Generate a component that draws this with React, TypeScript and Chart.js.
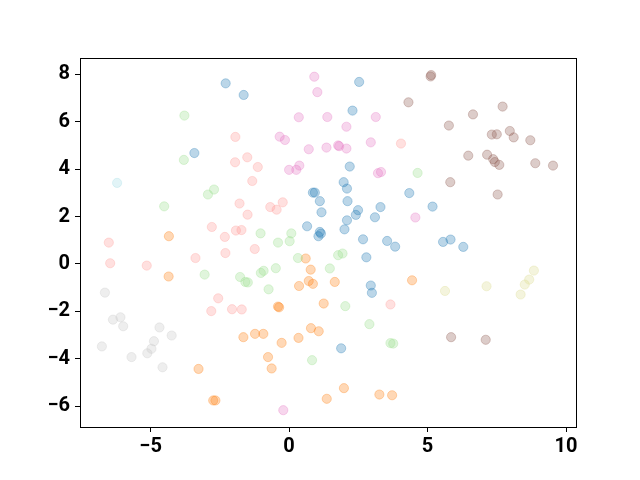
import React, { useEffect, useRef } from "react";
import { Chart, registerables } from "chart.js";

Chart.register(...registerables);

const xTicks = [-5, 0, 5, 10];
const yTicks = [-6, -4, -2, 0, 2, 4, 6, 8];

const blue: [number, number][] = [
  [-2.29, 7.62], [-1.64, 7.13], [-3.42, 4.68], [2.53, 7.68], [2.29, 6.47], [2.19, 4.11], [1.97, 3.45],
  [2.09, 3.18], [0.93, 3.01], [0.86, 3.01], [1.11, 2.65], [2.11, 2.65], [1.17, 2.18], [2.49, 2.27],
  [2.41, 2.07], [3.3, 2.4], [3.1, 1.97], [2.09, 1.84], [0.65, 1.59], [2.0, 1.46], [1.11, 1.35],
  [1.15, 1.28], [1.06, 1.17], [2.67, 1.04], [3.54, 0.97], [3.83, 0.73], [2.79, 0.28], [4.34, 2.99],
  [5.18, 2.42], [5.56, 0.93], [5.83, 1.03], [6.29, 0.72], [2.95, -0.91], [2.99, -1.22], [1.88, -3.56],
];
const orange: [number, number][] = [
  [-4.34, 1.17], [-4.35, -0.53], [0.6, 0.23], [0.78, -0.24], [0.71, -0.72], [0.86, -0.84], [0.36, -0.93],
  [1.65, -0.76], [-0.4, -1.8], [-0.36, -1.83], [1.25, -1.67], [4.44, -0.69], [-1.65, -3.09], [-1.23, -2.95],
  [-0.93, -2.95], [-0.27, -3.33], [0.34, -3.12], [0.79, -2.71], [1.07, -2.84], [-0.76, -3.93], [-0.63, -4.41],
  [-3.27, -4.43], [-2.74, -5.76], [-2.66, -5.76], [1.98, -5.24], [1.36, -5.69], [3.26, -5.51], [3.72, -5.54],
];
const lightGreen: [number, number][] = [
  [-3.78, 6.26], [-3.8, 4.39], [-2.71, 3.14], [-2.93, 2.93], [-4.51, 2.43], [4.64, 3.84], [-1.03, 1.29],
  [0.08, 1.29], [0.02, 0.96], [-0.4, 0.9], [0.32, 0.25], [1.77, 0.37], [1.93, 0.44], [1.47, -0.19],
  [-0.48, -0.18], [-1.02, -0.38], [-0.92, -0.29], [-1.77, -0.55], [-1.58, -0.76], [-1.49, -0.78],
  [-0.74, -1.07], [-3.05, -0.45], [2.03, -1.78], [2.9, -2.54], [3.66, -3.34], [3.76, -3.36], [0.83, -4.06],
];
const lightPink: [number, number][] = [
  [-1.94, 5.36], [-1.95, 4.29], [-1.51, 4.5], [-1.13, 4.09], [-1.33, 3.5], [4.04, 5.08], [-1.79, 2.55],
  [-1.5, 2.08], [-0.68, 2.4], [-0.45, 2.29], [-0.23, 2.6], [-2.79, 1.56], [-1.92, 1.41], [-1.72, 1.43],
  [-2.32, 1.14], [-1.24, 0.63], [-2.3, 0.46], [-3.38, 0.25], [-6.51, 0.9], [-6.46, 0.03], [-5.14, -0.07],
  [-2.56, -1.45], [-2.81, -1.99], [-2.06, -1.91], [-1.71, -1.92], [3.66, -1.71],
];
const pink: [number, number][] = [
  [0.91, 7.9], [1.02, 7.25], [0.35, 6.19], [1.38, 6.2], [3.13, 6.2], [2.07, 5.79], [-0.34, 5.37],
  [-0.15, 5.23], [2.95, 5.13], [0.71, 4.84], [1.35, 4.91], [1.77, 5.0], [1.81, 4.97], [2.07, 4.87],
  [0.0, 3.97], [0.26, 3.97], [0.37, 4.15], [3.21, 3.83], [3.32, 3.88], [4.56, 1.96], [-0.21, -6.17],
];
const brown: [number, number][] = [
  [4.31, 6.82], [5.13, 7.97], [5.11, 7.91], [7.71, 6.64], [6.64, 6.31], [5.77, 5.84], [7.97, 5.61],
  [8.11, 5.34], [7.32, 5.46], [7.5, 5.47], [8.71, 5.22], [6.47, 4.57], [7.15, 4.61], [7.37, 4.42],
  [7.43, 4.3], [7.59, 4.18], [8.89, 4.25], [9.53, 4.15], [5.82, 3.45], [7.53, 2.93], [5.85, -3.09], [7.1, -3.2],
];
const gray: [number, number][] = [
  [-6.65, -1.21], [-6.36, -2.35], [-6.09, -2.25], [-5.99, -2.63], [-6.76, -3.48], [-4.68, -2.68],
  [-4.24, -3.02], [-4.88, -3.26], [-4.97, -3.58], [-5.12, -3.77], [-5.69, -3.93], [-4.57, -4.36],
];
const olive: [number, number][] = [
  [5.63, -1.14], [7.13, -0.94], [8.84, -0.28], [8.67, -0.66], [8.51, -0.87], [8.36, -1.29],
];
const cyan: [number, number][] = [[-6.21, 3.42]];

const groups: { pts: [number, number][]; rgb: string }[] = [
  { pts: gray, rgb: "199,199,199" },
  { pts: olive, rgb: "219,219,141" },
  { pts: cyan, rgb: "158,218,229" },
  { pts: lightPink, rgb: "255,152,150" },
  { pts: lightGreen, rgb: "152,223,138" },
  { pts: orange, rgb: "255,127,14" },
  { pts: blue, rgb: "31,119,180" },
  { pts: pink, rgb: "227,119,194" },
  { pts: brown, rgb: "140,86,75" },
];

const fmt = (v: number) => (v < 0 ? "\u2212" + Math.abs(v) : String(v));

export default function App() {
  const ref = useRef<HTMLCanvasElement | null>(null);
  useEffect(() => {
    document.body.style.margin = "0";
    const boxPlugin = {
      id: "box",
      afterDraw(chart: any) {
        const { ctx, chartArea: a } = chart;
        ctx.save();
        ctx.strokeStyle = "#000";
        ctx.lineWidth = 1;
        ctx.strokeRect(Math.round(a.left) + 0.5, Math.round(a.top) + 0.5, Math.round(a.right - a.left), Math.round(a.bottom - a.top));
        ctx.restore();
      },
    };
    const font = { family: "Roboto", size: 20, weight: "bold" as const };
    const chart = new Chart(ref.current!, {
      type: "scatter",
      data: {
        datasets: groups.map((g) => ({
          data: g.pts.map(([x, y]) => ({ x, y })),
          backgroundColor: `rgba(${g.rgb},0.3)`,
          borderColor: `rgba(${g.rgb},0.3)`,
          borderWidth: 1,
          pointRadius: 4.6,
        })),
      },
      options: {
        animation: false,
        responsive: false,
        layout: { padding: { left: 0, top: 58, right: 64, bottom: 0 } },
        plugins: { legend: { display: false }, tooltip: { enabled: false } },
        scales: {
          x: {
            type: "linear",
            min: -7.55,
            max: 10.36,
            afterFit: (s: any) => { s.height = 53; },
            afterBuildTicks: (s: any) => { s.ticks = xTicks.map((v) => ({ value: v })); },
            ticks: { font, color: "#000", padding: 3, callback: (v: any) => fmt(Number(v)), maxRotation: 0 },
            grid: { drawOnChartArea: false, drawTicks: true, tickLength: 5, color: "#000" },
            border: { display: true, color: "#000" },
          },
          y: {
            type: "linear",
            min: -6.88,
            max: 8.69,
            afterFit: (s: any) => { s.width = 80; },
            afterBuildTicks: (s: any) => { s.ticks = yTicks.map((v) => ({ value: v })); },
            ticks: { font, color: "#000", padding: 5, callback: (v: any) => fmt(Number(v)) },
            grid: { drawOnChartArea: false, drawTicks: true, tickLength: 5, color: "#000" },
            border: { display: true, color: "#000" },
          },
        },
      },
      plugins: [boxPlugin],
    });
    return () => chart.destroy();
  }, []);
  return (
    <div style={{ position: "fixed", left: 0, top: 0, width: 640, height: 480, background: "#fff" }}>
      <canvas ref={ref} width={640} height={480} style={{ width: 640, height: 480 }} />
    </div>
  );
}
